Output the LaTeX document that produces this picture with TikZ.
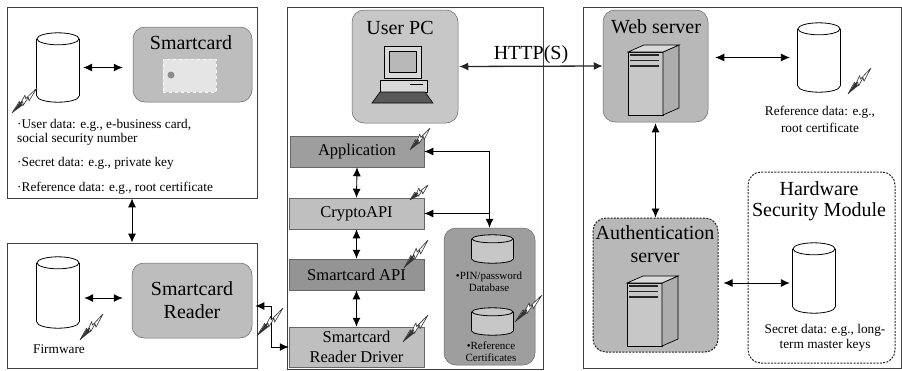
\documentclass[tikz,border=0pt]{standalone}
\usepackage{fontspec}
\setmainfont{Liberation Serif}
\usetikzlibrary{arrows.meta,calc}
\newcommand{\fs}[1]{\fontsize{#1}{#1}\selectfont}
\newcommand{\cylface}[3]{% node name, half-height of ellipse, fill
  \filldraw[fill=#3,draw=black,line width=.8pt] ($(#1.south)+(0,-#2)$) ellipse [x radius=.5*\pgfkeysvalueof{/cylw}pt,y radius=#2pt];
  \fill[#3] ($(#1.north west)+(0,#2)$) rectangle ($(#1.south east)+(0,-#2)$);
  \draw[line width=.8pt] ($(#1.north west)+(0,#2)$) -- ($(#1.south west)+(0,-#2)$);
  \draw[line width=.8pt] ($(#1.north east)+(0,#2)$) -- ($(#1.south east)+(0,-#2)$);
  \filldraw[fill=#3,draw=black,line width=.8pt] ($(#1.north)+(0,#2)$) ellipse [x radius=.5*\pgfkeysvalueof{/cylw}pt,y radius=#2pt];
}
\pgfkeys{/cylw/.initial=42}
\newcommand{\boltmark}[2]{%
  \coordinate (bA) at #1; \coordinate (bB) at #2;
  \filldraw[draw=black!80,fill=white,line width=.6pt,line join=round]
    (bA) -- ($(bA)!.42!(bB)!3.5pt!90:(bB)$) -- ($(bA)!.36!(bB)!.5pt!90:(bB)$)
    -- ($(bA)!.62!(bB)!2.5pt!90:(bB)$) -- ($(bA)!.56!(bB)!-.5pt!90:(bB)$)
    -- (bB) -- ($(bA)!.62!(bB)!-3pt!90:(bB)$) -- ($(bA)!.66!(bB)!-.5pt!90:(bB)$)
    -- ($(bA)!.38!(bB)!-3.5pt!90:(bB)$) -- ($(bA)!.44!(bB)!-.5pt!90:(bB)$) -- cycle;
  \fill[black!80] (bB) -- ($(bA)!.62!(bB)!-2.2pt!90:(bB)$) -- ($(bA)!.62!(bB)!2.2pt!90:(bB)$) -- cycle;
}
\tikzset{
  panel/.style={draw=black!75,line width=.8pt,fill=white,inner sep=0pt},
  gbox/.style={rounded corners=12pt,fill=black!#1,inner sep=0pt,draw=black!60,line width=.5pt},
  gbox/.default=26,
  layer/.style={fill=black!#1,draw=black!60,line width=.5pt,inner sep=0pt,align=center,font=\fs{16.5}},
  cylbody/.style={inner sep=0pt},
  dashbox/.style={rounded corners=13pt,draw=black!85,line width=1pt,dash pattern=on 2pt off 1.3pt,inner sep=0pt},
  both/.style={{Latex[length=9pt,width=8pt]}-{Latex[length=9pt,width=8pt]},line width=.9pt,black},
  tipstart/.style={{Latex[length=9pt,width=8pt]}-,line width=.9pt,black},
  big/.style={font=\fs{20},align=center,inner sep=0pt},
  body/.style={font=\fs{13.3},align=left,inner sep=0pt,anchor=west},
  bodyc/.style={font=\fs{13.3},align=center,inner sep=0pt},
  tiny/.style={font=\fs{11},align=center,inner sep=0pt},
  pics/servericon/.style={code={
    \filldraw[fill=black!22,draw=black,line width=.7pt] (0,0) rectangle (35,63);
    \filldraw[fill=black!32,draw=black,line width=.7pt] (35,0) -- (51,-7) -- (51,56) -- (35,63) -- cycle;
    \filldraw[fill=black!15,draw=black,line width=.7pt] (0,0) -- (16,-7) -- (51,-7) -- (35,0) -- cycle;
    \draw[line width=1.2pt,black!85] (2,3) -- (31,3);
    \draw[line width=1.2pt,black!85] (2,8.5) -- (31,8.5);
    \draw[line width=1.2pt,black!85] (2,14) -- (31,14);
  }}
}
\begin{document}
\begin{tikzpicture}[x=1pt,y=-1pt]
\useasboundingbox (0,0) rectangle (902,370);
% panels
\node[panel,minimum width=250pt,minimum height=191pt] (panelA) at (132,102.5) {};
\node[panel,minimum width=250pt,minimum height=125pt] (panelB) at (132,305.5) {};
\node[panel,minimum width=256pt,minimum height=362pt] (panelC) at (415,188) {};
\node[panel,minimum width=318pt,minimum height=361pt] (panelD) at (742,187.5) {};
% smartcard panel
\node[cylbody,minimum width=42pt,minimum height=69pt] (cylA) at (58,67.5) {};
\cylface{cylA}{6}{white}
\node[gbox,minimum width=119pt,minimum height=75pt] (card) at (192.5,64.5) {};
\node[big] (cardlabel) at (191,43) {Smartcard};
\node[fill=black!10,draw=white,dashed,line width=.8pt,minimum width=53pt,minimum height=33pt,inner sep=0pt] (chipcard) at (189.5,75.5) {};
\node[circle,fill=black!45,minimum size=7pt,inner sep=0pt] (chip) at (171,75) {};
\node[body] (t1) at (17,125) {·User data: e.g., e-business card,};
\node[body] (t2) at (17,139) {social security number};
\node[body] (t3) at (17,163) {·Secret data: e.g., private key};
\node[body] (t4) at (17,188) {·Reference data: e.g., root certificate};
% reader panel
\node[cylbody,minimum width=42pt,minimum height=71pt] (cylB) at (58,292.5) {};
\cylface{cylB}{6}{white}
\node[gbox,minimum width=120pt,minimum height=75pt,big,font=\fontsize{20}{23}\selectfont] (reader) at (192,300.5) {Smartcard\\Reader};
\node[bodyc] (firm) at (59,349) {Firmware};
% user PC
\node[gbox=22,minimum width=106pt,minimum height=113pt] (pc) at (405,66.5) {};
\node[big] (pclabel) at (400,28) {User PC};
\filldraw[fill=black!15,draw=black,line width=.7pt] (384,46) rectangle (421,78);
\filldraw[fill=black!28,draw=black,line width=.6pt] (389,51) rectangle (416,72);
\filldraw[fill=black!15,draw=black,line width=.7pt] (380,80) rectangle (427,92);
\draw[line width=.8pt] (410,84) -- (423,84);
\filldraw[fill=black!65,draw=black,line width=.6pt] (380,92) -- (425,92) -- (433,103) -- (372,103) -- cycle;
% stack
\node[layer=38,minimum width=134pt,minimum height=31pt] (app) at (357,151.5) {Application};
\node[layer=25,minimum width=135pt,minimum height=31pt] (crypto) at (356.5,213.5) {CryptoAPI};
\node[layer=42,minimum width=135pt,minimum height=31pt] (sapi) at (356.5,274.5) {Smartcard API};
\node[layer=25,minimum width=135pt,minimum height=40pt,font=\fontsize{16.5}{20}\selectfont] (driver) at (356.5,347) {Smartcard\\Reader Driver};
\node[gbox=38,minimum width=91pt,minimum height=137pt] (db) at (489.5,296.5) {};
\pgfkeys{/cylw=41}
\node[cylbody,minimum width=41pt,minimum height=28pt] (cylPin) at (492.5,249) {};
\cylface{cylPin}{4}{black!22}
\node[cylbody,minimum width=41pt,minimum height=27pt] (cylRef) at (492.5,321.5) {};
\cylface{cylRef}{4}{black!22}
\pgfkeys{/cylw=42}
\node[tiny] (pin) at (489,282) {•PIN/password\\[1pt]Database};
\node[tiny] (refc) at (491,352) {•Reference\\[1pt]Certificates};
% web server
\node[gbox=28,minimum width=105pt,minimum height=112pt] (web) at (655.5,66) {};
\node[big] (weblabel) at (656,27) {Web server};
\pic at (628,52) {servericon};
\node[cylbody,minimum width=42pt,minimum height=69pt] (cylC) at (819,57.5) {};
\cylface{cylC}{6}{white}
\node[bodyc,font=\fontsize{13.3}{17}\selectfont] (reft) at (820,119) {Reference data: e.g.,\\root certificate};
% auth
\node[dashbox,fill=black!28,minimum width=125pt,minimum height=134pt] (auth) at (655.5,285) {};
\node[big,font=\fontsize{20}{23}\selectfont] (authlabel) at (655,244) {Authentication\\server};
\pic at (627,283) {servericon};
% HSM
\node[dashbox,minimum width=147pt,minimum height=191pt] (hsm) at (821.5,267.5) {};
\node[big,font=\fontsize{20}{21}\selectfont] (hsmlabel) at (819,201) {Hardware\\Security Module};
\node[cylbody,minimum width=42pt,minimum height=70pt] (cylD) at (814,278) {};
\cylface{cylD}{6}{white}
\node[bodyc,font=\fontsize{13.3}{15}\selectfont] (sect) at (825,337.5) {Secret data: e.g., long-\\term master keys};
\node[big] (http) at (531,55) {HTTP(S)};
% connectors
\draw[both,shorten <=4pt,shorten >=10pt] (cylA.east) -- ([yshift=-3pt]card.west);
\draw[both] (panelA.south) -- (panelB.north);
\draw[both,shorten <=5pt,shorten >=9pt] ([yshift=-5.5pt]cylB.east) -- ([yshift=2.5pt]reader.west);
\coordinate (bendRD) at (271,306);
\draw[both] ([yshift=-5.5pt]reader.east) ++(3pt,0) -- (bendRD) |- (driver.west);
\draw[both,line width=1.3pt,black!85] ([xshift=1pt]pc.east) -- (web.west);
\draw[both] (app.south) -- (crypto.north);
\draw[both] (crypto.south) -- (sapi.north);
\draw[both] (sapi.south) -- (driver.north);
\draw[both] (app.east) -| (db.north);
\draw[tipstart] (crypto.east) -- (crypto.east -| db.north);
\draw[both,shorten <=7pt,shorten >=8pt] ([yshift=8.5pt]web.east) -- (cylC.west);
\draw[both,shorten <=1pt] (web.south) -- (auth.north);
\draw[both,shorten <=5pt,shorten >=3pt] ([yshift=2pt]auth.east) -- ([yshift=-5pt]cylD.west);
% bolts
\boltmark{(37,88)}{(12,113)}
\boltmark{(103,314)}{(80,340)}
\boltmark{(283,308)}{(257,336)}
\boltmark{(430,128)}{(410,150)}
\boltmark{(428,185)}{(410,200)}
\boltmark{(428,240)}{(404,268)}
\boltmark{(428,315)}{(403,342)}
\boltmark{(542,295)}{(515,322)}
\boltmark{(871,68)}{(848,94)}
\end{tikzpicture}
\end{document}
